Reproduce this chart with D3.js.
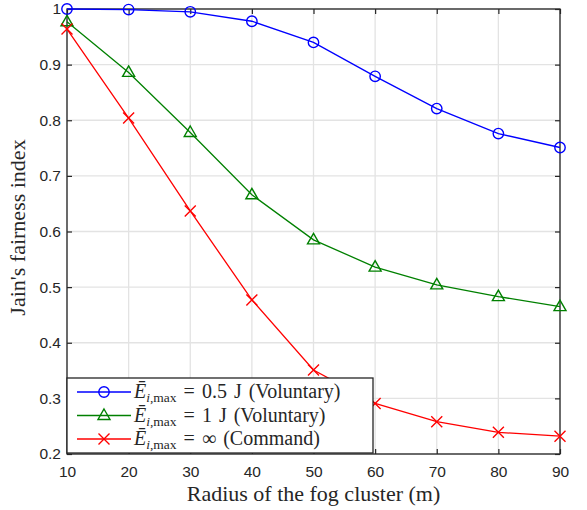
<!DOCTYPE html>
<html>
<head>
<meta charset="utf-8">
<script src="https://cdn.jsdelivr.net/npm/d3@7"></script>
<style>
  body { margin: 0; background: #fff; }
  .tick text { font-family: "Liberation Sans", Arial, sans-serif; font-size: 15.5px; fill: #262626; }
</style>
</head>
<body>
<div id="chart"></div>
<script>
// Radius of the fog cluster (m)
var radius = [10, 20, 30, 40, 50, 60, 70, 80, 90];
// Jain's fairness index per series
var voluntary05 = [1.0, 0.999, 0.995, 0.978, 0.940, 0.879, 0.821, 0.776, 0.751];
var voluntary1 = [0.977, 0.886, 0.778, 0.666, 0.585, 0.536, 0.504, 0.483, 0.465];
var command = [0.964, 0.804, 0.637, 0.477, 0.351, 0.291, 0.258, 0.239, 0.232];
var xTicks = [10, 20, 30, 40, 50, 60, 70, 80, 90];
var yTicks = [0.2, 0.3, 0.4, 0.5, 0.6, 0.7, 0.8, 0.9, 1];
var seriesNames = [" = 0.5 J (Voluntary)", " = 1 J (Voluntary)", " = \u221E (Command)"];

var margin = { top: 9, right: 27, bottom: 56, left: 67 },
  width = 587 - margin.left - margin.right,
  height = 510 - margin.top - margin.bottom;

var svg = d3.select("#chart")
  .append("svg")
  .attr("width", 587)
  .attr("height", 510)
  .append("g")
  .attr("transform", "translate(" + margin.left + "," + margin.top + ")");

var xScale = d3.scaleLinear().domain([10, 90]).range([0, width]);
var yScale = d3.scaleLinear().domain([0.2, 1]).range([height, 0]);

// grid
svg.append("g").selectAll("line.gx")
  .data(xTicks)
  .join("line")
  .attr("x1", d => xScale(d)).attr("x2", d => xScale(d))
  .attr("y1", 0).attr("y2", height)
  .style("stroke", "#e3e3e3").style("stroke-width", 1.3);
svg.append("g").selectAll("line.gy")
  .data(yTicks)
  .join("line")
  .attr("x1", 0).attr("x2", width)
  .attr("y1", d => yScale(d)).attr("y2", d => yScale(d))
  .style("stroke", "#e3e3e3").style("stroke-width", 1.3);

// axes (ticks inside, box on)
function styleAxis(g) {
  g.select(".domain").remove();
  g.selectAll(".tick line").style("stroke", "#262626").style("stroke-width", 1.2);
}
svg.append("g")
  .attr("transform", "translate(0," + height + ")")
  .call(d3.axisBottom(xScale).tickValues(xTicks).tickSizeInner(-5).tickPadding(12))
  .call(styleAxis);
svg.append("g")
  .call(d3.axisTop(xScale).tickValues(xTicks).tickSizeInner(-5).tickFormat(""))
  .call(styleAxis);
svg.append("g")
  .call(d3.axisLeft(yScale).tickValues(yTicks).tickSizeInner(-5).tickPadding(6).tickFormat(d => d == 1 ? "1" : d3.format(".1f")(d)))
  .call(styleAxis);
svg.append("g")
  .attr("transform", "translate(" + width + ",0)")
  .call(d3.axisRight(yScale).tickValues(yTicks).tickSizeInner(-5).tickFormat(""))
  .call(styleAxis);

svg.append("rect")
  .attr("width", width).attr("height", height)
  .attr("fill", "none").style("stroke", "#262626").style("stroke-width", 1.3);

var series = [
  { name: seriesNames[0], values: voluntary05, color: "#0000ff", marker: "circle" },
  { name: seriesNames[1], values: voluntary1, color: "#008000", marker: "triangle" },
  { name: seriesNames[2], values: command, color: "#ff0000", marker: "cross" }
];

var line = d3.line()
  .x((d, i) => xScale(radius[i]))
  .y(d => yScale(d));

function drawMarker(g, type, color) {
  if (type == "circle") {
    g.append("circle").attr("r", 5.2)
      .attr("fill", "none").style("stroke", color).style("stroke-width", 1.4);
  } else if (type == "triangle") {
    g.append("path").attr("d", "M0,-6.5L6,4L-6,4Z")
      .attr("fill", "none").style("stroke", color).style("stroke-width", 1.4);
  } else {
    g.append("path").attr("d", "M-5.5,-5.5L5.5,5.5M-5.5,5.5L5.5,-5.5")
      .attr("fill", "none").style("stroke", color).style("stroke-width", 1.4);
  }
}

series.forEach(s => {
  svg.append("path")
    .datum(s.values)
    .attr("fill", "none")
    .attr("stroke", s.color)
    .attr("stroke-width", 1.3)
    .attr("d", line);
  svg.append("g").selectAll("g")
    .data(s.values)
    .join("g")
    .attr("transform", (d, i) => "translate(" + xScale(radius[i]) + "," + yScale(d) + ")")
    .each(function() { drawMarker(d3.select(this), s.marker, s.color); });
});

// legend
var legend = svg.append("g").attr("transform", "translate(0," + (height - 76) + ")");
legend.append("rect")
  .attr("width", 306).attr("height", 75)
  .attr("fill", "#fff").style("stroke", "#262626").style("stroke-width", 1.3);
series.forEach((s, i) => {
  var row = legend.append("g").attr("transform", "translate(0," + (14 + i * 23.5) + ")");
  row.append("line").attr("x1", 10).attr("x2", 64).attr("y1", 0).attr("y2", 0)
    .style("stroke", s.color).style("stroke-width", 1.3);
  drawMarker(row.append("g").attr("transform", "translate(37,0)"), s.marker, s.color);
  var t = row.append("text")
    .attr("x", 67).attr("y", 6)
    .style("font-family", "'Liberation Serif', 'Times New Roman', serif")
    .style("font-size", "20px").style("word-spacing", "2px").style("fill", "#262626");
  t.append("tspan").style("font-style", "italic").text("\u0112");
  t.append("tspan").style("font-style", "italic").style("font-size", "13.5px").attr("dy", 4).text("i");
  t.append("tspan").style("font-size", "13.5px").text(",max");
  t.append("tspan").attr("dy", -4).text(s.name);
});

// axis labels
svg.append("text")
  .attr("x", width / 2).attr("y", height + 47)
  .attr("text-anchor", "middle")
  .style("font-family", "'Liberation Serif', 'Times New Roman', serif")
  .style("font-size", "22px").style("fill", "#262626")
  .text("Radius of the fog cluster (m)");
svg.append("text")
  .attr("transform", "translate(" + (-42) + "," + (height / 2 - 4) + ") rotate(-90)")
  .attr("text-anchor", "middle")
  .style("font-family", "'Liberation Serif', 'Times New Roman', serif")
  .style("font-size", "22px").style("fill", "#262626")
  .text("Jain's fairness index");
</script>
</body>
</html>
